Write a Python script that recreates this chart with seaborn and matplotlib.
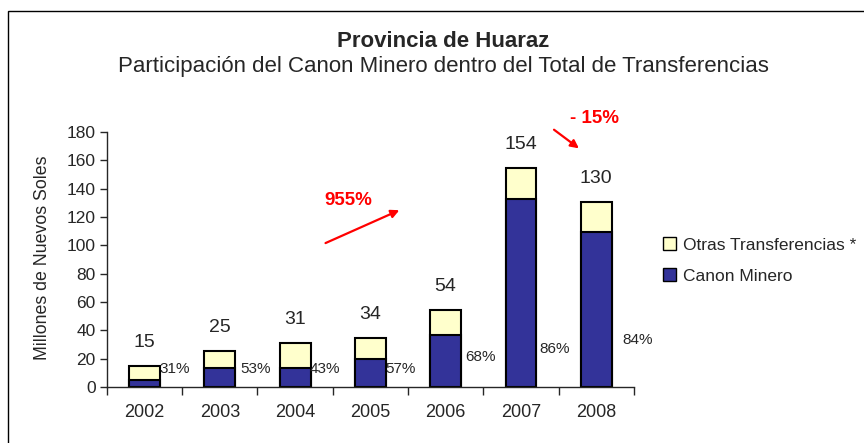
import matplotlib
matplotlib.use("Agg")
import matplotlib.pyplot as plt
from matplotlib.patches import Patch, Rectangle
import seaborn as sns
import pandas as pd

years = ["2002", "2003", "2004", "2005", "2006", "2007", "2008"]
total = [14.6, 25.1, 31.2, 34.3, 54.4, 154.3, 130.4]
canon = [4.6, 13.3, 13.4, 19.5, 37.0, 132.7, 109.5]
total_labels = ["15", "25", "31", "34", "54", "154", "130"]
pct_labels = ["31%", "53%", "43%", "57%", "68%", "86%", "84%"]

# where the percent labels sit (data coords)
pct_x = [0.204, 1.266, 2.196, 3.205, 4.254, 5.25, 6.353]
pct_y = [12.7, 12.7, 12.7, 12.7, 21.0, 26.6, 33.2]

navy = "#333399"
cream = "#FFFFCC"

sns.set_style("white")
plt.rcParams["font.family"] = ["Liberation Sans", "DejaVu Sans"]

df = pd.DataFrame({"year": years, "total": total, "canon": canon})

fig = plt.figure(figsize=(8.64, 4.43), dpi=100)
ax = fig.add_axes([0.1238, 0.1264, 0.6098, 0.5756])

sns.barplot(data=df, x="year", y="total", color=cream, width=0.41,
            edgecolor="black", linewidth=1.5, saturation=1, ax=ax)
sns.barplot(data=df, x="year", y="canon", color=navy, width=0.41,
            edgecolor="black", linewidth=1.5, saturation=1, ax=ax)

ax.set_ylim(0, 180)
ax.set_xlim(-0.5, 6.5)
ax.set_yticks(range(0, 181, 20))
ax.set_xlabel("")
ax.set_ylabel("")
sns.despine(ax=ax)
ax.spines["left"].set_linewidth(1)
ax.spines["bottom"].set_linewidth(1)
ax.tick_params(axis="y", direction="out", length=5, width=1, labelsize=12.5, pad=3, left=True)
ax.tick_params(axis="x", which="major", length=0, labelsize=13, pad=12)
ax.set_xticks([i + 0.5 for i in range(-1, 7)], minor=True)
ax.tick_params(axis="x", which="minor", direction="out", length=6, width=1, bottom=True)

for i, lab in enumerate(total_labels):
    ax.annotate(lab, (i, total[i]), xytext=(0, 17), textcoords="offset points",
                ha="center", va="center", fontsize=14)

for i, lab in enumerate(pct_labels):
    ax.text(pct_x[i], pct_y[i], lab, ha="left", va="center", fontsize=11)

arrow = dict(arrowstyle="-|>", color="red", lw=1.6, mutation_scale=12)
ax.annotate("", xy=(3.418, 125.6), xytext=(2.37, 100.8), arrowprops=arrow, annotation_clip=False)
ax.text(2.71, 132, "955%", color="red", fontsize=13.5, fontweight="bold", ha="center", va="center")
ax.annotate("", xy=(5.8, 167.3), xytext=(5.41, 182.8), arrowprops=arrow, annotation_clip=False)
ax.text(5.98, 189.8, "- 15%", color="red", fontsize=13.5, fontweight="bold",
        ha="center", va="center", clip_on=False)

fig.text(0.5127, 0.907, "Provincia de Huaraz", ha="center", va="center",
         fontsize=16, fontweight="bold")
fig.text(0.5127, 0.8488, "Participación del Canon Minero dentro del Total de Transferencias",
         ha="center", va="center", fontsize=16)
fig.text(43 / 864, 1 - 258 / 443, "Millones de Nuevos Soles", rotation=90,
         ha="center", va="center", fontsize=12.8)

handles = [Patch(facecolor=cream, edgecolor="black", linewidth=1),
           Patch(facecolor=navy, edgecolor="black", linewidth=1)]
fig.legend(handles, ["Otras Transferencias *", "Canon Minero"], loc="upper left",
           bbox_to_anchor=(0.749, 0.5), frameon=False, fontsize=12.5,
           handlelength=0.75, handleheight=0.75, handletextpad=0.4, labelspacing=0.9)

fig.add_artist(Rectangle((8 / 864, -0.1), 1.2, 1.1 - 11 / 443,
                         transform=fig.transFigure, fill=False,
                         edgecolor="black", linewidth=1))

fig.savefig("out.png", dpi=100)
